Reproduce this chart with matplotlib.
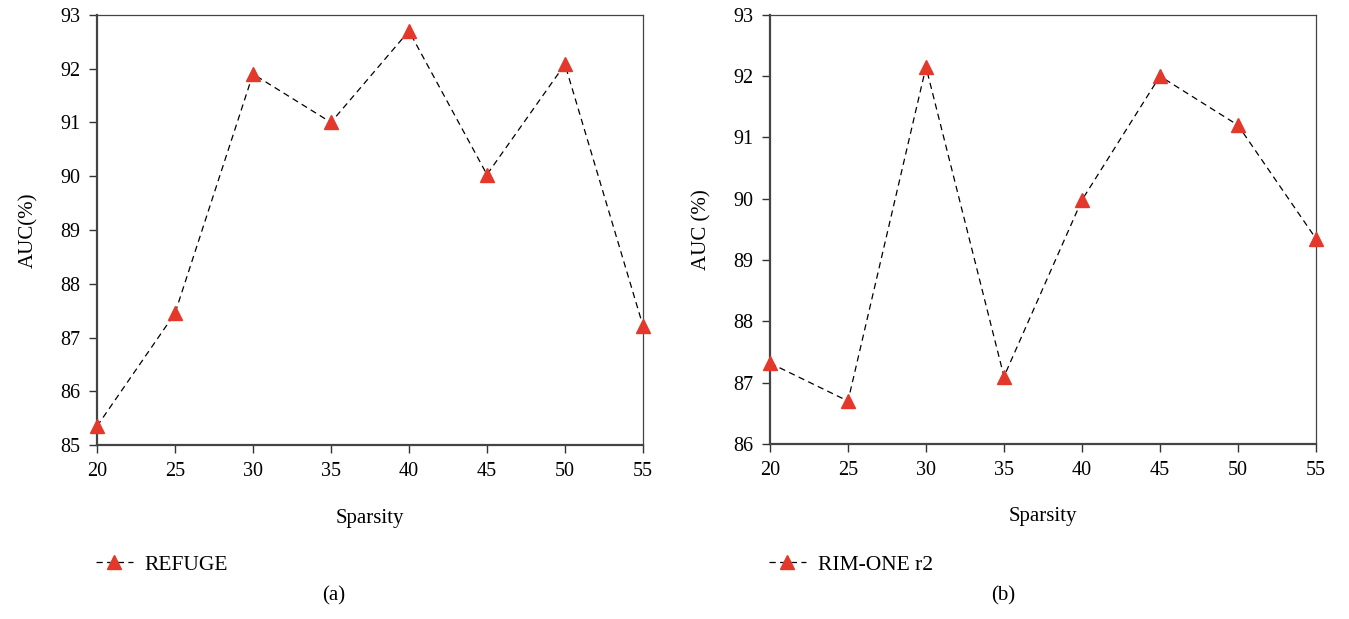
import matplotlib.pyplot as plt

plt.rcParams['font.family'] = ['Liberation Serif', 'DejaVu Serif']

sparsity = [20, 25, 30, 35, 40, 45, 50, 55]
auc_refuge = [85.35, 87.45, 91.9, 91.0, 92.7, 90.03, 92.08, 87.22]
auc_rim = [87.32, 86.7, 92.15, 87.1, 89.98, 92.0, 91.2, 89.35]

panels = [
    dict(y=auc_refuge, label='REFUGE', ylabel='AUC(%)', ylim=(85, 93),
         pos=[0.0719, 0.281, 0.4047, 0.695], cap='(a)', capx=0.247),
    dict(y=auc_rim, label='RIM-ONE r2', ylabel='AUC (%)', ylim=(86, 93),
         pos=[0.5708, 0.2827, 0.4047, 0.6933], cap='(b)', capx=0.7435),
]

fig = plt.figure(figsize=(13.49, 6.19), dpi=100)
red = '#e3382a'

for p in panels:
    ax = fig.add_axes(p['pos'])
    ln, = ax.plot(sparsity, p['y'], color='black', lw=0.9, ls=(0, (5, 3.5)),
                  marker='^', markersize=10, markerfacecolor=red,
                  markeredgecolor=red, clip_on=False, zorder=3,
                  label=p['label'])
    ax.set_xlim(20, 55)
    ax.set_ylim(*p['ylim'])
    ax.set_xticks(sparsity)
    ax.set_yticks(range(p['ylim'][0], 94))
    ax.tick_params(labelsize=14.5, direction='out', length=6, width=1,
                   color='#333333', pad=6)
    for s in ['left', 'bottom']:
        ax.spines[s].set_linewidth(1.6)
        ax.spines[s].set_color('#444444')
    for s in ['top', 'right']:
        ax.spines[s].set_linewidth(0.9)
        ax.spines[s].set_color('#444444')
    ax.set_xlabel('Sparsity', fontsize=15, labelpad=20)
    ax.set_ylabel(p['ylabel'], fontsize=15, labelpad=16)
    x0, y0, w, h = p['pos']
    fig.legend(handles=[ln], loc='center left',
               bbox_to_anchor=(x0 - 0.015, 0.088), frameon=False,
               fontsize=15.5, handlelength=1.7, handletextpad=0.55)
    fig.text(p['capx'], 0.022, p['cap'], ha='center', va='bottom',
             fontsize=15)

fig.savefig('out.png', dpi=100)
